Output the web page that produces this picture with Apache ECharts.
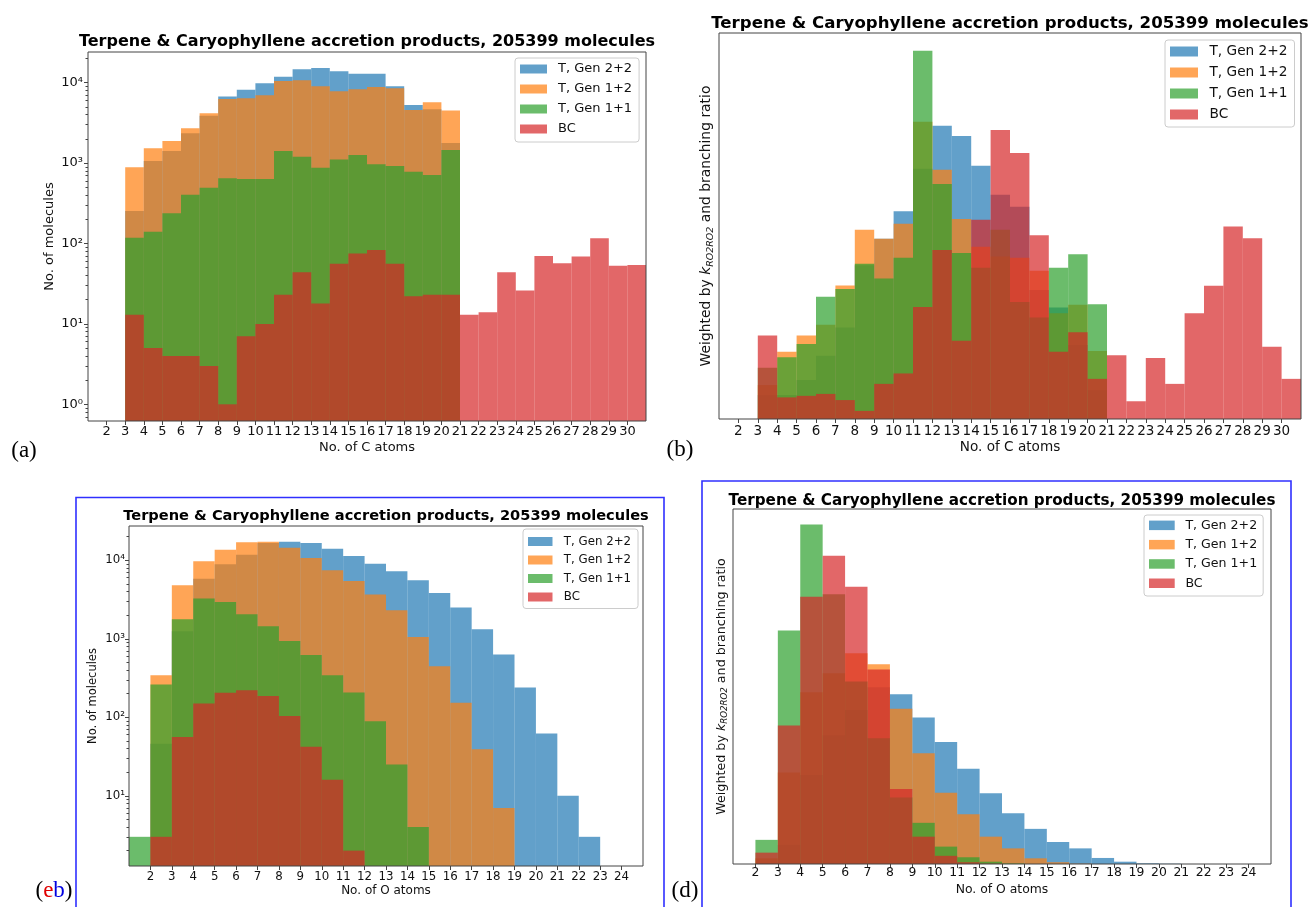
<!DOCTYPE html>
<html><head><meta charset="utf-8">
<script src="https://cdn.jsdelivr.net/npm/echarts@6/dist/echarts.min.js"></script>
<style>html,body{margin:0;padding:0;background:#fff}#chart{width:1312px;height:907px}</style>
</head><body><div id="chart"></div>
<script>
// ---------- data ----------
const seriesNames = ['T, Gen 2+2', 'T, Gen 1+2', 'T, Gen 1+1', 'BC'];
const titleText = 'Terpene & Caryophyllene accretion products, 205399 molecules';
const cTicks = [2,3,4,5,6,7,8,9,10,11,12,13,14,15,16,17,18,19,20,21,22,23,24,25,26,27,28,29,30];
const oTicks = [2,3,4,5,6,7,8,9,10,11,12,13,14,15,16,17,18,19,20,21,22,23,24];
const logTicks = [1, 10, 100, 1000, 10000];

// (a) number of molecules per C-atom bin (bins start at C=3)
const aStart = 3;
const aGen22 = [254, 1064, 1416, 2349, 3894, 6713, 8200, 9835, 11900, 14680, 15250, 13860, 12960, 12960, 9020, 5285, 4670, 1779];
const aGen12 = [887, 1528, 1884, 2710, 4163, 6280, 6397, 6970, 10500, 10710, 9020, 7817, 8280, 8850, 8516, 4580, 5705, 4496];
const aGen11 = [118, 140, 238, 405, 495, 647, 635, 635, 1416, 1203, 878, 1105, 1262, 966, 921, 783, 712, 1456];
const aBC    = [13, 5, 4, 4, 3, 1, 7, 10, 23, 44, 18, 56, 75, 83, 56, 22, 23, 23, 13, 14, 44, 26, 70, 57, 69, 116, 53, 54];

// (b) weighted by k_RO2RO2 and branching ratio (arbitrary units, per C-atom bin from C=3)
const bStart = 3;
const bGen22 = [6.2, 6.2, 10.1, 16.4, 23.7, 39.8, 46.7, 53.8, 64.8, 76.0, 73.3, 65.6, 58.1, 55.0, 33.4, 28.9, 19.2, 7.5];
const bGen12 = [8.8, 17.4, 21.6, 24.4, 34.6, 49.0, 46.7, 50.6, 77.0, 64.6, 51.8, 44.6, 42.1, 41.8, 38.4, 27.4, 29.6, 17.6];
const bGen11 = [13.3, 16.0, 19.4, 31.7, 33.7, 40.2, 36.4, 41.8, 95.4, 60.9, 43.0, 39.2, 49.0, 30.3, 26.3, 39.2, 42.7, 29.7];
const bBC    = [21.6, 5.6, 6.0, 6.5, 4.9, 2.1, 9.1, 11.8, 29.0, 43.8, 20.3, 51.6, 74.9, 68.9, 47.6, 17.4, 22.5, 10.4, 16.5, 4.6, 15.8, 9.1, 27.4, 34.5, 49.9, 46.8, 18.7, 10.4];

// (c) number of molecules per O-atom bin (from O=1)
const cStart = 1;
const cGen22 = [0, 46, 1247, 5835, 8890, 11800, 16600, 17260, 16600, 14060, 11350, 9060, 7245, 5560, 3838, 2495, 1321, 630, 239, 62, 10, 3];
const cGen12 = [0, 344, 4800, 9700, 13650, 16940, 17260, 14490, 10690, 7450, 5460, 3655, 2307, 1057, 447, 153, 39, 7];
const cGen11 = [3, 261, 1775, 3250, 2945, 2052, 1445, 940, 623, 344, 207, 89, 25, 4];
const cBC    = [0, 3, 56, 150, 205, 221, 186, 104, 42, 16, 2];

// (d) weighted, per O-atom bin (from O=2)
const dStart = 2;
const dGen22 = [0.3, 5.4, 25.1, 36.3, 43.4, 49.8, 47.8, 41.3, 34.4, 26.8, 19.9, 14.3, 9.9, 6.2, 4.4, 1.7, 0.65, 0.2, 0.08];
const dGen12 = [1.6, 25.8, 48.4, 53.7, 59.4, 56.3, 43.7, 31.2, 20.1, 14.0, 7.7, 4.4, 1.6, 0.5, 0.1];
const dGen11 = [6.8, 65.8, 95.6, 76.0, 51.4, 35.4, 18.7, 11.6, 4.9, 1.9, 0.65, 0.15];
const dBC    = [3.2, 39.0, 75.3, 86.8, 78.1, 54.8, 21.1, 7.7, 2.3, 0.5, 0.08];

// ---------- styling ----------
const FONT = '"DejaVu Sans"';
const AX = '#444';
const TXT = '#111';
const colors = ['rgba(31,119,180,0.7)', 'rgba(255,127,14,0.7)', 'rgba(44,160,44,0.7)', 'rgba(214,39,40,0.7)'];
const sup = {'0': '\u2070', '1': '\u00b9', '2': '\u00b2', '3': '\u00b3', '4': '\u2074'};

function minorLog(lo, hi) {
  const out = [];
  for (let e = -1; e <= 4; e++) for (let m = 2; m <= 9; m++) {
    const v = m * Math.pow(10, e);
    if (v > lo && v < hi) out.push(v);
  }
  return out;
}
function renderBin(params, api) {
  const x = api.value(0), v = api.value(1);
  if (!(v > 0)) return null;
  const cs = params.coordSys;
  const a = api.coord([x, v]);
  const b = api.coord([x + 1, v]);
  const bottom = cs.y + cs.height;
  return {type: 'rect', shape: {x: a[0], y: a[1], width: b[0] - a[0], height: bottom - a[1]}, style: {fill: api.visual('color')}};
}
function mk(ci, xi, yi, start, arr) {
  const data = [];
  arr.forEach((v, i) => { if (v > 0) data.push([start + i, v]); });
  return {type: 'custom', name: seriesNames[ci], xAxisIndex: xi, yAxisIndex: yi, renderItem: renderBin,
          silent: true, animation: false, itemStyle: {color: colors[ci]}, encode: {x: 0, y: 1}, data: data};
}
function ts(fs, extra) {
  return Object.assign({fontFamily: FONT, fontSize: fs, color: TXT}, extra || {});
}
function grid(l, t, w, h) {
  return {left: l, top: t, width: w, height: h, show: true, borderColor: AX, borderWidth: 1,
          backgroundColor: 'transparent', z: 10, containLabel: false, outerBoundsMode: 'none'};
}
function xAx(gi, min, max, ticks, name, labFs, margin, nameFs, nameGap) {
  return {type: 'value', gridIndex: gi, min: min, max: max, interval: 1, z: 10,
    axisLine: {show: false}, splitLine: {show: false},
    axisTick: {show: true, length: 4, lineStyle: {color: AX, width: 1}, customValues: ticks},
    axisLabel: Object.assign(ts(labFs), {customValues: ticks, margin: margin}),
    name: name, nameLocation: 'middle', nameGap: nameGap, nameTextStyle: ts(nameFs)};
}
function yLog(gi, min, max, labFs, margin, name, nameFs, nameGap) {
  return {type: 'log', logBase: 10, gridIndex: gi, position: 'left', min: min, max: max, z: 10,
    axisLine: {show: false}, splitLine: {show: false},
    axisTick: {show: true, length: 4, lineStyle: {color: AX, width: 1}, customValues: logTicks},
    axisLabel: Object.assign(ts(labFs), {customValues: logTicks, margin: margin,
      formatter: v => '10' + sup[String(Math.round(Math.log10(v)))]}),
    name: name, nameLocation: 'middle', nameRotate: 90, nameGap: nameGap, nameTextStyle: ts(nameFs)};
}
function yMinor(gi, min, max) {
  return {type: 'log', logBase: 10, gridIndex: gi, position: 'left', offset: 0, min: min, max: max, z: 11,
    axisLine: {show: false}, splitLine: {show: false}, axisLabel: {show: false},
    axisTick: {show: true, length: 2.5, lineStyle: {color: AX, width: 1}, customValues: minorLog(min, max)}};
}
function yWeighted(gi, fs, nameGap) {
  return {type: 'value', gridIndex: gi, position: 'left', min: 0, max: 100, z: 10,
    axisLine: {show: false}, splitLine: {show: false}, axisTick: {show: false}, axisLabel: {show: false},
    name: 'Weighted by {k|k}{s|RO2RO2} and branching ratio', nameLocation: 'middle', nameRotate: 90, nameGap: nameGap,
    nameTextStyle: ts(fs, {lineHeight: fs + 3,
      rich: {k: ts(fs, {fontStyle: 'italic', lineHeight: fs + 3}),
             s: ts(fs * 0.68, {fontStyle: 'italic', lineHeight: fs * 0.7, verticalAlign: 'bottom'})}})};
}
function legend(l, t, iw, ih, fs, lh, gap, pad, textPad) {
  return {data: seriesNames, orient: 'vertical', left: l, top: t, itemWidth: iw, itemHeight: ih, itemGap: gap,
    icon: 'rect', padding: pad, borderColor: '#cccccc', borderWidth: 1, borderRadius: 3,
    backgroundColor: 'rgba(255,255,255,0.8)', selectedMode: false, z: 20,
    textStyle: ts(fs, {lineHeight: lh, padding: [0, 0, 0, textPad]})};
}
function title(x, y, fs) {
  return {type: 'text', x: x, y: y, z: 30,
    style: {text: titleText, font: 'bold ' + fs + 'px "DejaVu Sans"', fill: '#000', align: 'center', verticalAlign: 'middle'}};
}
function plabel(x, y, text, rich) {
  return {type: 'text', x: x, y: y, z: 30,
    style: {text: text, font: '23px "Liberation Serif"', fill: '#000', align: 'center', verticalAlign: 'middle', rich: rich || {}}};
}

const aMin = 0.62, aMax = 24090, cMin = 1.274, cMax = 27340;

const option = {
  animation: false,
  backgroundColor: '#fff',
  grid: [grid(88, 52, 558, 369), grid(719, 33, 582, 386), grid(129, 526, 514, 340), grid(733, 509, 538, 355)],
  xAxis: [
    xAx(0, 1, 31, cTicks, 'No. of C atoms', 13, 4, 13, 20),
    xAx(1, 1, 31, cTicks, 'No. of C atoms', 13.5, 5, 13.6, 21.5),
    xAx(2, 1, 25, oTicks, 'No. of O atoms', 11.8, 5, 12, 19),
    xAx(3, 1, 25, oTicks, 'No. of O atoms', 12.4, 3, 12.4, 19.8)
  ],
  yAxis: [
    yLog(0, aMin, aMax, 13, 5, 'No. of molecules', 13, 32),
    yMinor(0, aMin, aMax),
    yWeighted(1, 13.9, 4),
    yLog(2, cMin, cMax, 11.8, 4, 'No. of molecules', 11.5, 30),
    yMinor(2, cMin, cMax),
    yWeighted(3, 12.7, 3.5)
  ],
  legend: [
    legend(515, 58, 27, 9, 13, 14, 6, [4, 7, 6, 5], 6),
    legend(1165, 40, 28, 10, 13.7, 15, 6, [4, 7, 5, 5], 6.5),
    legend(523, 529, 24.5, 9, 11.8, 13, 5.5, [6, 7, 5, 5], 6.3),
    legend(1144, 515, 25.7, 9.5, 12.6, 13.5, 5.8, [3.6, 6, 6, 5], 5.7)
  ],
  series: [
    mk(0, 0, 0, aStart, aGen22), mk(1, 0, 0, aStart, aGen12), mk(2, 0, 0, aStart, aGen11), mk(3, 0, 0, aStart, aBC),
    mk(0, 1, 2, bStart, bGen22), mk(1, 1, 2, bStart, bGen12), mk(2, 1, 2, bStart, bGen11), mk(3, 1, 2, bStart, bBC),
    mk(0, 2, 3, cStart, cGen22), mk(1, 2, 3, cStart, cGen12), mk(2, 2, 3, cStart, cGen11), mk(3, 2, 3, cStart, cBC),
    mk(0, 3, 5, dStart, dGen22), mk(1, 3, 5, dStart, dGen12), mk(2, 3, 5, dStart, dGen11), mk(3, 3, 5, dStart, dBC)
  ],
  graphic: [
    title(367, 41.5, 16), title(1010, 24, 16.6), title(386, 516.7, 14.6), title(1002, 500.8, 15.2),
    plabel(24, 451, '(a)'), plabel(680, 450, '(b)'),
    plabel(54, 891, '({e|e}{b|b})', {e: {fill: '#e00000', font: '23px "Liberation Serif"'}, b: {fill: '#0000e0', font: '23px "Liberation Serif"'}}),
    plabel(685, 891, '(d)'),
    {type: 'rect', z: 30, shape: {x: 76, y: 497.5, width: 588, height: 440}, style: {fill: 'none', stroke: '#3030ff', lineWidth: 1.6}},
    {type: 'rect', z: 30, shape: {x: 702, y: 481, width: 589, height: 460}, style: {fill: 'none', stroke: '#3030ff', lineWidth: 1.6}}
  ]
};

const chart = echarts.init(document.getElementById('chart'), null, {renderer: 'canvas', width: 1312, height: 907});
chart.setOption(option);
</script>
</body></html>
